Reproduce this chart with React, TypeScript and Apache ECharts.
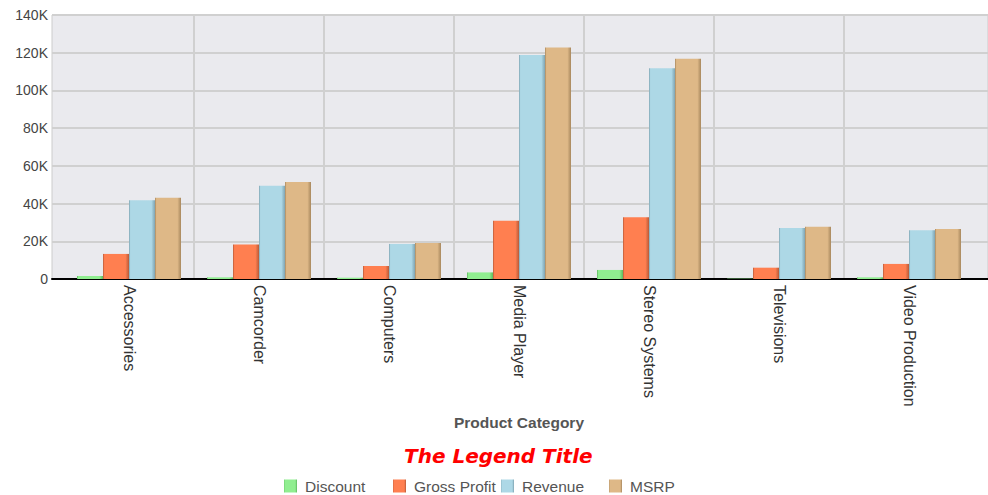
import React, { useEffect, useRef } from "react";
import * as echarts from "echarts";

const categories = ["Accessories", "Camcorder", "Computers", "Media Player", "Stereo Systems", "Televisions", "Video Production"];
const discount = [1600, 900, 700, 3500, 4800, 200, 900];
const grossProfit = [13300, 18300, 6900, 30900, 32700, 6000, 8000];
const revenue = [41700, 49500, 18600, 118800, 111700, 27000, 25800];
const msrp = [43100, 51400, 19100, 122700, 116800, 27700, 26500];
const seriesNames = ["Discount", "Gross Profit", "Revenue", "MSRP"];
const seriesColors = ["#90EE90", "#FF7F50", "#ADD8E6", "#DEB887"];
const edgeColors = ["#5FB85F", "#B85A38", "#7FA4B2", "#A8885E"];

function barFill(i: number) {
  return new echarts.graphic.LinearGradient(0, 0, 1, 0, [
    { offset: 0, color: edgeColors[i] },
    { offset: 0.06, color: seriesColors[i] },
    { offset: 0.86, color: seriesColors[i] },
    { offset: 1, color: edgeColors[i] },
  ]);
}

export default function App() {
  const ref = useRef<HTMLDivElement>(null);
  useEffect(() => {
    if (!ref.current) return;
    const chart = echarts.init(ref.current, null, { renderer: "svg" });
    const dataSets = [discount, grossProfit, revenue, msrp];
    const legendLefts = [284, 393, 501, 609];
    const font = "'Liberation Sans', Arial, sans-serif";
    chart.setOption({
      animation: false,
      backgroundColor: "#ffffff",
      title: {
        text: "The Legend Title",
        left: 404,
        top: 446,
        padding: 0,
        textStyle: {
          color: "#FF0000",
          fontFamily: "'DejaVu Sans', Verdana, sans-serif",
          fontStyle: "italic",
          fontWeight: "bold",
          fontSize: 20,
        },
      },
      legend: seriesNames.map((n, i) => ({
        data: [n],
        left: legendLefts[i],
        top: 478,
        padding: 0,
        itemWidth: 13,
        itemHeight: 13,
        icon: "rect",
        textStyle: { color: "#555555", fontSize: 15.5, fontFamily: font, padding: [0, 0, 0, 3] },
      })),
      grid: [
        { left: 52, right: 0, top: 15, bottom: 216, show: true, backgroundColor: "#EAEAEE", borderColor: "#CCCCCC", borderWidth: 1 },
        { left: 64, right: 14, top: 15, bottom: 216 },
      ],
      xAxis: [
        {
          type: "category",
          gridIndex: 0,
          data: [""],
          axisLine: { show: true, lineStyle: { color: "#000000", width: 2 } },
          axisTick: { show: false },
          axisLabel: { show: false },
          splitLine: { show: false },
        },
        {
          type: "category",
          gridIndex: 1,
          data: categories,
          name: "Product Category",
          nameLocation: "middle",
          nameGap: 134,
          nameTextStyle: { color: "#555555", fontWeight: "bold", fontSize: 15.5, fontFamily: font, verticalAlign: "top" },
          axisLine: { show: false },
          axisTick: { show: false },
          axisLabel: { rotate: -90, margin: 6, color: "#333333", fontSize: 16, fontFamily: font },
          splitLine: {
            show: true,
            showMinLine: false,
            showMaxLine: false,
            lineStyle: { color: "#D0D0D0", width: 2 },
          },
        },
      ],
      yAxis: [
        {
          type: "value",
          gridIndex: 0,
          min: 0,
          max: 140000,
          interval: 20000,
          axisLine: { show: false },
          axisTick: { show: false },
          axisLabel: {
            color: "#444444",
            fontSize: 14,
            fontFamily: font,
            margin: 4,
            formatter: (v: number) => (v === 0 ? "0" : v / 1000 + "K"),
          },
          splitLine: { show: true, lineStyle: { color: "#D0D0D0", width: 2 } },
        },
        {
          type: "value",
          gridIndex: 1,
          min: 0,
          max: 140000,
          interval: 20000,
          show: false,
          splitLine: { show: false },
        },
      ],
      series: seriesNames.map((n, i) => ({
        name: n,
        type: "bar",
        xAxisIndex: 1,
        yAxisIndex: 1,
        data: dataSets[i],
        barGap: "0%",
        barCategoryGap: "20%",
        itemStyle: { color: barFill(i) },
        emphasis: { disabled: true },
      })),
    });
    return () => chart.dispose();
  }, []);
  return <div ref={ref} style={{ position: "fixed", left: 0, top: 0, width: 988, height: 495 }} />;
}
